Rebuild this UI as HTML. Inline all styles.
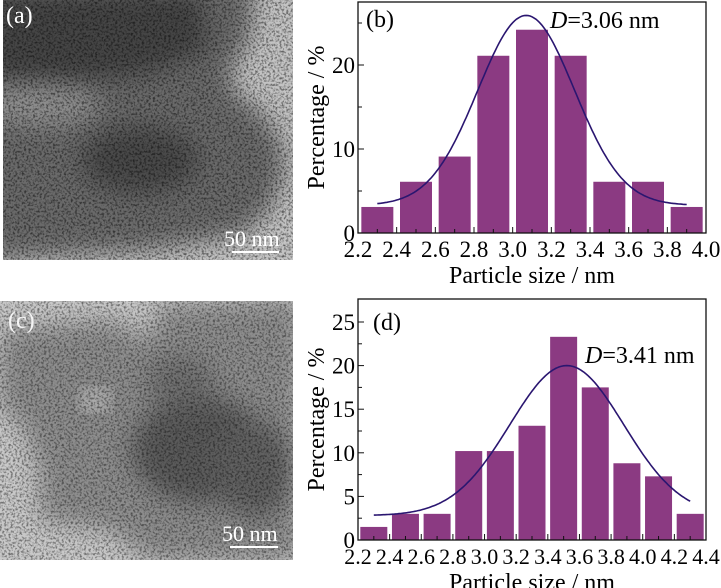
<!DOCTYPE html>
<html><head><meta charset="utf-8"><style>
html,body{margin:0;padding:0;background:#fff;width:721px;height:588px;overflow:hidden}
svg{display:block;font-family:"Liberation Serif",serif}
</style></head><body>
<svg id="s" width="721" height="588" viewBox="0 0 721 588" xmlns="http://www.w3.org/2000/svg">
<defs>
<filter id="nz" x="0" y="0" width="100%" height="100%">
<feTurbulence type="fractalNoise" baseFrequency="0.45" numOctaves="2" seed="3" result="t"/>
<feColorMatrix type="matrix" values="0 0 0 0 0  0 0 0 0 0  0 0 0 0 0  0 0 0 -3 1.7" />
</filter>
<filter id="bl"><feGaussianBlur stdDeviation="12"/></filter>
<clipPath id="ca"><rect x="3" y="0" width="290" height="260"/></clipPath>
<clipPath id="cc"><rect x="0" y="301" width="293" height="259"/></clipPath>
</defs>
<g clip-path="url(#ca)">
<rect x="3" y="0" width="290" height="260" fill="#c4c4c4"/>
<g filter="url(#bl)">
<path d="M-20,-20 L255,-20 L250,40 L230,70 L235,95 L260,110 L280,140 L285,170 L270,210 L240,235 L150,250 L-20,260Z" fill="#6a6a6a"/>
<path d="M-20,-10 L200,-10 L210,50 L150,75 L60,85 L-20,80Z" fill="#454545"/>
<ellipse cx="140" cy="160" rx="60" ry="35" fill="#4a4a4a"/>
<ellipse cx="40" cy="105" rx="60" ry="20" fill="#909090"/>
</g>
<rect x="3" y="0" width="290" height="260" filter="url(#nz)" opacity="0.5"/>
<text x="6" y="23" font-size="24" fill="#fff">(a)</text>
<text x="224" y="246" font-size="22" fill="#fff">50 nm</text>
<rect x="232" y="251" width="47" height="2" fill="#fff"/>
</g>
<g clip-path="url(#cc)">
<rect x="0" y="301" width="293" height="259" fill="#c9c9c9"/>
<g filter="url(#bl)">
<path d="M0,330 L110,320 L150,340 L160,305 L300,300 L300,560 L150,560 L110,530 L40,520 L40,470 L20,420 L0,410Z" fill="#8d8d8d"/>
<ellipse cx="200" cy="450" rx="70" ry="55" fill="#5a5a5a"/>
<ellipse cx="255" cy="470" rx="40" ry="50" fill="#606060"/>
<ellipse cx="180" cy="380" rx="35" ry="25" fill="#707070"/>
</g>
<ellipse cx="95" cy="400" rx="16" ry="12" fill="#c6c6c6" filter="url(#bl)"/>
<rect x="0" y="301" width="293" height="259" filter="url(#nz)" opacity="0.45"/>
<text x="8" y="328" font-size="24" fill="#f4f4f4">(c)</text>
<text x="222" y="541" font-size="22" fill="#fff">50 nm</text>
<rect x="230" y="546" width="48" height="2" fill="#fff"/>
</g>
<g id="charts"></g>
</svg>
<script>
var NS="http://www.w3.org/2000/svg",G=document.getElementById("charts");
function el(t,a,txt){var e=document.createElementNS(NS,t);for(var k in a)e.setAttribute(k,a[k]);if(txt!==undefined)e.textContent=txt;G.appendChild(e);return e;}
function chart(o){
 var L=358,R=706,T=o.T,B=o.B;
 var X=function(v){return L+(v-o.x0)/(o.x1-o.x0)*(R-L)};
 var Y=function(v){return B-(v)/o.ymax*(B-o.Ytop)};
 o.vals.forEach(function(v,i){var c=o.x0+0.1+0.2*i;var w=o.bw;
  el("rect",{x:X(c)-w/2,y:Y(v),width:w,height:B-Y(v),fill:"#8b3a82"});});
 var d="";for(var x=o.c0;x<=o.c1+1e-9;x+=0.01){var y=o.y0+o.A*Math.exp(-Math.pow(x-o.xc,2)/(2*o.w*o.w));d+=(d?"L":"M")+X(x).toFixed(1)+","+Y(y).toFixed(1);}
 el("path",{d:d,fill:"none",stroke:"#2a1670","stroke-width":1.6});
 el("rect",{x:L,y:T,width:R-L,height:B-T,fill:"none",stroke:"#111","stroke-width":1.3});
 for(var v=o.x0;v<=o.x1+1e-9;v+=0.1){var major=Math.round(v*10)%2==0;var px=X(v);
  el("line",{x1:px,x2:px,y1:B,y2:B-(major?6:4),stroke:"#111","stroke-width":1});
  if(major)el("text",{x:px,y:B+24,"font-size":o.tf,"text-anchor":"middle"},v.toFixed(1));}
 o.yt.forEach(function(v){var py=Y(v);el("line",{x1:L,x2:L+6,y1:py,y2:py,stroke:"#111"});
  el("text",{x:L-3,y:py+8,"font-size":23,"text-anchor":"end"},String(v));});
 o.ym.forEach(function(v){var py=Y(v);el("line",{x1:L,x2:L+4,y1:py,y2:py,stroke:"#111"});});
 el("text",{x:532,y:B+50,"font-size":24,"text-anchor":"middle"},"Particle size / nm");
 el("text",{x:0,y:0,"font-size":24,"text-anchor":"middle",transform:"translate(324,"+((T+B)/2)+") rotate(-90)"},"Percentage / %");
 el("text",{x:o.lx,y:o.ly,"font-size":24},o.lab);
 var dt=el("text",{x:o.dx,y:o.dy,"font-size":24});
 var s=document.createElementNS(NS,"tspan");s.setAttribute("font-style","italic");s.textContent="D";dt.appendChild(s);
 dt.appendChild(document.createTextNode(o.dtext));
}
chart({T:2,B:233,Ytop:23,ymax:25,x0:2.2,x1:4.0,bw:32,tf:23,vals:[3.1,6.1,9.1,21.1,24.2,21.1,6.1,6.1,3.1],
 c0:2.3,c1:3.9,y0:3.3,A:22.6,xc:3.07,w:0.25,yt:[0,10,20],ym:[5,15,25],lab:"(b)",lx:366,ly:27,dx:550,dy:28,dtext:"=3.06 nm"});
chart({T:299,B:540,Ytop:322,ymax:25,x0:2.2,x1:4.4,bw:27,tf:22,vals:[1.5,3,3,10.2,10.2,13.1,23.3,17.5,8.8,7.3,3],
 c0:2.3,c1:4.3,y0:2.8,A:17.2,xc:3.52,w:0.36,yt:[0,5,10,15,20,25],ym:[2.5,7.5,12.5,17.5,22.5],lab:"(d)",lx:373,ly:330,dx:585,dy:363,dtext:"=3.41 nm"});
</script>
</body></html>
